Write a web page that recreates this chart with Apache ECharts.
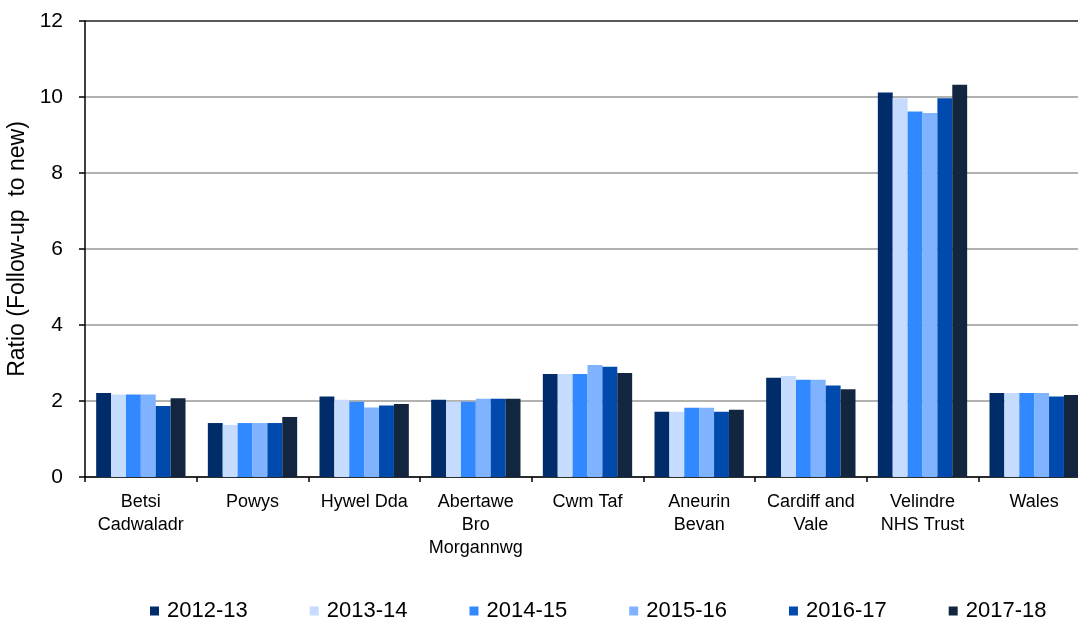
<!DOCTYPE html>
<html>
<head>
<meta charset="utf-8">
<script src="https://cdn.jsdelivr.net/npm/echarts@6/dist/echarts.min.js"></script>
<style>
  html, body { margin: 0; padding: 0; background: #fff; }
  #ratio { width: 1078px; height: 624px; }
</style>
</head>
<body>
<div id="ratio"></div>
<script>
const boards = [
  'Betsi\nCadwaladr', 'Powys', 'Hywel Dda', 'Abertawe\nBro\nMorgannwg', 'Cwm Taf',
  'Aneurin\nBevan', 'Cardiff and\nVale', 'Velindre\nNHS Trust', 'Wales'
];
const years = ['2012-13', '2013-14', '2014-15', '2015-16', '2016-17', '2017-18'];

const y2012 = [2.21, 1.42, 2.12, 2.03, 2.71, 1.72, 2.61, 10.12, 2.21];
const y2013 = [2.17, 1.37, 2.03, 1.98, 2.71, 1.72, 2.66, 9.97, 2.21];
const y2014 = [2.17, 1.42, 1.98, 1.98, 2.71, 1.82, 2.56, 9.62, 2.21];
const y2015 = [2.17, 1.42, 1.83, 2.06, 2.95, 1.82, 2.56, 9.58, 2.21];
const y2016 = [1.87, 1.42, 1.88, 2.06, 2.90, 1.72, 2.41, 9.97, 2.12];
const y2017 = [2.07, 1.58, 1.92, 2.06, 2.74, 1.77, 2.31, 10.32, 2.16];

const yTicks = [0, 2, 4, 6, 8, 10, 12];

const colours = ['#002c6a', '#c5dcff', '#3289ff', '#7fb2ff', '#004aad', '#12263f'];
const values = [y2012, y2013, y2014, y2015, y2016, y2017];

const chart = echarts.init(document.getElementById('ratio'));
const font = 'Liberation Sans, Arial, sans-serif';

const option = {
  animation: false,
  textStyle: { fontFamily: font, color: '#000' },
  grid: { left: 85, right: -12, top: 21, bottom: 147, outerBoundsMode: 'none', containLabel: false },
  legend: {
    left: 145,
    top: 595,
    itemWidth: 9,
    itemHeight: 9,
    itemGap: 62,
    icon: 'rect',
    textStyle: { fontSize: 22, color: '#000', fontFamily: font, padding: [0, 0, 0, 3] },
    data: years
  },
  xAxis: {
    type: 'category',
    data: boards,
    axisLine: { lineStyle: { color: '#000', width: 1.5 } },
    axisTick: { show: true, length: 5, lineStyle: { color: '#000', width: 1.5 } },
    axisLabel: {
      interval: 0,
      fontSize: 18,
      lineHeight: 23,
      margin: 14,
      color: '#000',
      fontFamily: font
    }
  },
  yAxis: {
    type: 'value',
    min: yTicks[0],
    max: yTicks[yTicks.length - 1],
    interval: 2,
    name: 'Ratio (Follow-up  to new)',
    nameLocation: 'middle',
    nameGap: 56,
    nameTextStyle: { fontSize: 23, color: '#000', fontFamily: font },
    axisLine: { show: true, lineStyle: { color: '#000', width: 1.5 } },
    axisTick: { show: true, length: 6, lineStyle: { color: '#000', width: 1.5 } },
    axisLabel: { fontSize: 21, margin: 22, color: '#000', fontFamily: font },
    splitLine: {
      show: true,
      lineStyle: { color: ['#999', '#999', '#999', '#999', '#999', '#999', '#222'], width: 1.5 }
    }
  },
  series: years.map((y, i) => ({
    name: y,
    type: 'bar',
    data: values[i],
    barGap: '0%',
    barCategoryGap: '20%',
    itemStyle: { color: colours[i] }
  }))
};

chart.setOption(option);
</script>
</body>
</html>
